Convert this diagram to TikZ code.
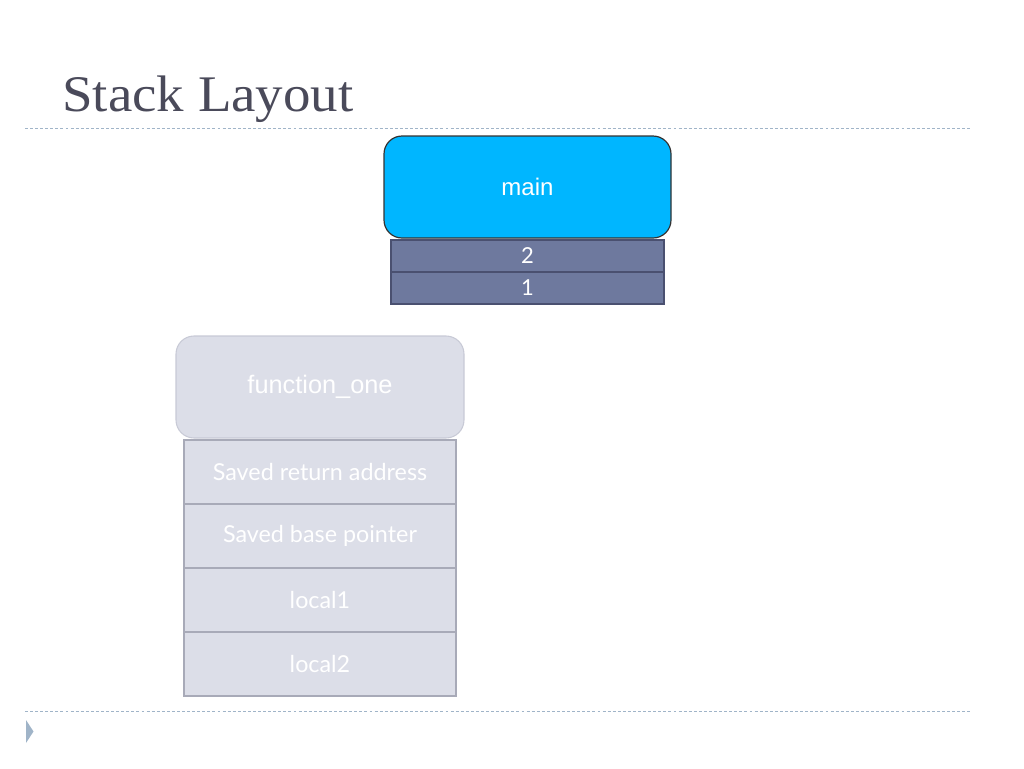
\documentclass[tikz,border=0pt]{standalone}
\usepackage{fontspec}
\setmainfont{Liberation Serif}
\newfontfamily\arialfont{Liberation Sans}
\newfontfamily\gillfont{Lato}
\usetikzlibrary{positioning}
\definecolor{titlegray}{RGB}{74,74,90}
\definecolor{rulegray}{RGB}{160,180,200}
\definecolor{maincyan}{RGB}{0,182,255}
\definecolor{slotslate}{RGB}{110,121,158}
\definecolor{slotedge}{RGB}{74,80,112}
\definecolor{framefill}{RGB}{220,222,232}
\definecolor{frameedge}{RGB}{200,202,214}
\definecolor{celledge}{RGB}{168,170,184}
\tikzset{
  mainbox/.style={draw=black!80, fill=maincyan, rounded corners=13.5pt, line width=0.9pt,
    minimum width=215.25pt, minimum height=76.5pt, text=white,
    font=\arialfont\fontsize{18}{20}\selectfont},
  slotbox/.style={draw=slotedge, fill=slotslate, line width=1.1pt, outer sep=0pt,
    minimum width=204.75pt, minimum height=24pt, text=white, inner sep=0pt,
    font=\gillfont\fontsize{16.5}{18}\selectfont},
  framebox/.style={draw=frameedge, fill=framefill, rounded corners=13.5pt, line width=0.8pt,
    minimum width=216pt, minimum height=76.5pt, text=white,
    font=\arialfont\fontsize{19}{21}\selectfont},
  cellbox/.style={draw=celledge, fill=framefill, line width=1.1pt, outer sep=0pt,
    minimum width=204pt, minimum height=48pt, text=white, inner sep=0pt,
    font=\gillfont\fontsize{17.5}{19}\selectfont},
  sliderule/.style={draw=rulegray, dashed, dash pattern=on 2.2pt off 1.6pt, line width=0.75pt}
}
\begin{document}
\begin{tikzpicture}[x=0.75pt, y=-0.75pt]
  \useasboundingbox (0,0) rectangle (1024,768);
  % title and rules
  \node[anchor=base west, inner sep=0pt, text=titlegray, font=\fontsize{38.5}{40}\selectfont]
    (title) at (62,111) {\scalebox{1.07}[1]{Stack Layout}};
  \coordinate (ruleA) at (25,128);
  \coordinate (ruleB) at (972,128);
  \draw[sliderule] (ruleA) -- (ruleB);
  \coordinate (ruleC) at (25,711);
  \coordinate (ruleD) at (972,711);
  \draw[sliderule] (ruleC) -- (ruleD);
  \fill[rulegray] (26,720) -- (33.5,731.5) -- (26,743) -- cycle;
  %%%%%%%%%%%%%%%%%%%%%%%%%%%%%%%%
  % main frame
  \node[mainbox] (main) at (527.5,187) {main};
  \node[slotbox] (arg2) at (527.5,256) {2};
  \node[slotbox, below=0pt of arg2] (arg1) {1};
  %%%%%%%%%%%%%%%%%%%%%%%%%%%%%%%%
  % function_one frame
  \node[framebox] (fone) at (320,387) {function\_one};
  \node[cellbox] (ret) at (320,472) {Saved return address};
  \node[cellbox, below=0pt of ret] (base) {Saved base pointer};
  \node[cellbox, below=0pt of base] (loc1) {local1};
  \node[cellbox, below=0pt of loc1] (loc2) {local2};
\end{tikzpicture}
\end{document}
